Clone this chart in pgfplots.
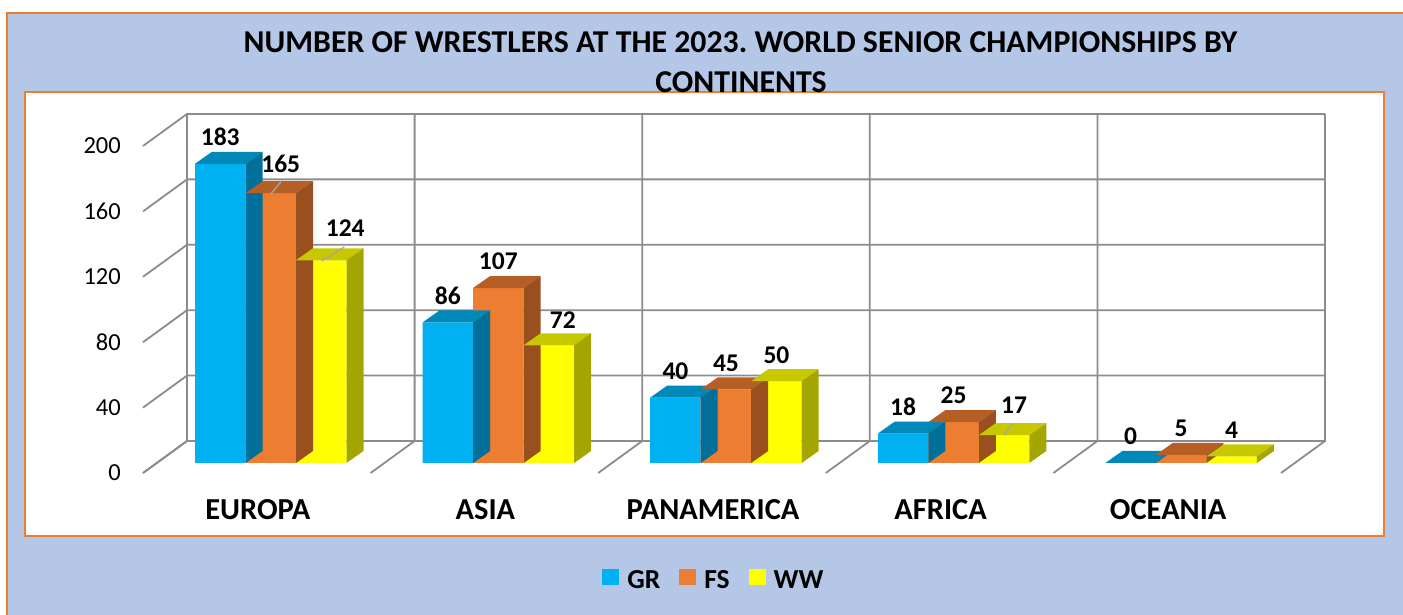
\documentclass[border=0pt]{standalone}
\usepackage{fontspec}
\setmainfont{Carlito}
\usepackage{pgfplots}
\usepackage{pgfplotstable}
\pgfplotsset{compat=1.18}
\frenchspacing

\definecolor{bgblue}{HTML}{B4C7E7}
\definecolor{frameor}{HTML}{ED7D31}
\definecolor{gridgray}{HTML}{8C8C8C}
\definecolor{leadgray}{HTML}{A6A6A6}
\definecolor{grF}{HTML}{00B0F0}
\definecolor{grT}{HTML}{0088B8}
\definecolor{grS}{HTML}{00709A}
\definecolor{fsF}{HTML}{ED7D31}
\definecolor{fsT}{HTML}{B55E25}
\definecolor{fsS}{HTML}{9A4F1E}
\definecolor{wwF}{HTML}{FFFF00}
\definecolor{wwT}{HTML}{C8C800}
\definecolor{wwS}{HTML}{A5A500}

\pgfplotstableread{
x gr fs ww grdx grdy fsdx fsdy wwdx wwdy
0 183 165 124 0 0 10 3 24 6
1 86 107 72 0 0 0 0 14 -1
2 40 45 50 0 0 0 0 0 0
3 18 25 17 0 0 0 0 10 3
4 0 5 4 0 0 0 0 0 0
}\datatable

% 3D faces of a bar: #1 mark name, #2 bar shift (pt), #3 top colour, #4 side colour
\newcommand\declareboxmark[4]{%
  \pgfdeclareplotmark{#1}{%
    \pgfmathsetmacro\boxh{\barv*1.635}%
    \pgfmathsetmacro\xl{#2-25.25}%
    \pgfmathsetmacro\xr{#2+25.25}%
    \pgfmathsetmacro\xlb{#2-25.25+17}%
    \pgfmathsetmacro\xrb{#2+25.25+17}%
    \pgfmathsetmacro\ybot{12-\boxh}%
    \pgfsetfillcolor{#3}%
    \pgfpathmoveto{\pgfpoint{\xl pt}{0pt}}%
    \pgfpathlineto{\pgfpoint{\xr pt}{0pt}}%
    \pgfpathlineto{\pgfpoint{\xrb pt}{12pt}}%
    \pgfpathlineto{\pgfpoint{\xlb pt}{12pt}}%
    \pgfpathclose
    \pgfusepath{fill}%
    \pgfsetfillcolor{#4}%
    \pgfpathmoveto{\pgfpoint{\xr pt}{0pt}}%
    \pgfpathlineto{\pgfpoint{\xrb pt}{12pt}}%
    \pgfpathlineto{\pgfpoint{\xrb pt}{\ybot pt}}%
    \pgfpathlineto{\pgfpoint{\xr pt}{-\boxh pt}}%
    \pgfpathclose
    \pgfusepath{fill}%
  }%
}
\declareboxmark{boxGR}{-50.5}{grT}{grS}
\declareboxmark{boxFS}{0}{fsT}{fsS}
\declareboxmark{boxWW}{50.5}{wwT}{wwS}

\pgfplotsset{
  frontbar/.style n args={4}{% shift, colour, dx col, dy col
    ybar, bar width=50.5pt, bar shift=#1pt, fill=#2, draw=none,
    nodes near coords,
    visualization depends on={\thisrow{#3}\as\ldx},
    visualization depends on={\thisrow{#4}\as\ldy},
    every node near coord/.append style={font=\fontsize{25.5}{30}\selectfont\bfseries,
      text=black, anchor=center, inner sep=0pt, xshift=#1pt+\ldx*1pt, yshift=26.5pt+\ldy*1pt},
    legend image code/.code={\fill[fill=#2] (0pt,-5pt) rectangle (17pt,11.5pt);},
  },
  boxfaces/.style n args={2}{% mark, column
    forget plot, scatter, only marks, mark=#1,
    visualization depends on={\thisrow{#2}\as\barv},
  },
}

\begin{document}
\begin{tikzpicture}
\path[use as bounding box] (0pt,0pt) rectangle (1403pt,615pt);
\fill[white] (0pt,0pt) rectangle (1403pt,615pt);
% outer chart area
\fill[bgblue] (7pt,-5pt) rectangle (1410pt,602pt);
\draw[frameor, line width=2.5pt] (7pt,-5pt) -- (7pt,602pt) -- (1410pt,602pt);
% plot area
\draw[frameor, line width=2.5pt, fill=white] (25pt,79pt) rectangle (1384pt,523pt);
% back wall, left wall and floor lines
\foreach \v in {0,40,...,200}{
  \pgfmathsetmacro\Y{174+1.635*\v}
  \draw[gridgray, line width=1.8pt] (143pt,\Y pt-32pt) -- (187pt,\Y pt) -- (1325pt,\Y pt);
}
\foreach \k in {0,...,5}{
  \pgfmathsetmacro\X{187+227.6*\k}
  \draw[gridgray, line width=1.8pt] (\X pt-44pt,142pt) -- (\X pt,174pt) -- (\X pt,501pt);
}
\begin{axis}[
  at={(134.19pt,135.65pt)}, anchor=south west,
  x=227.6pt, y=1.635pt,
  xmin=-0.6, xmax=4.6, ymin=-10, ymax=220,
  enlargelimits=false, clip=false,
  axis line style={draw=none}, tick style={draw=none}, major tick length=0pt,
  xtick={0,...,4}, xticklabels={EUROPA,ASIA,PANAMERICA,AFRICA,OCEANIA},
  xticklabel style={font=\fontsize{30.5}{36}\selectfont\bfseries, anchor=base,
    inner sep=0pt, xshift=-12.95pt, yshift=-40.65pt},
  ytick={0,40,...,200}, yticklabels={0,40,80,120,160,200},
  yticklabel style={font=\fontsize{24.5}{29}\selectfont, anchor=east,
    inner sep=0pt, xshift=-13.2pt, yshift=-10pt},
  /pgf/number format/assume math mode=true,
  legend columns=3,
  legend style={at={(0.4890,-0.266)}, anchor=center, draw=none, fill=none,
    font=\fontsize{27.5}{33}\selectfont\bfseries, nodes={inner sep=0pt},
    /tikz/every odd column/.append style={column sep=8pt},
    /tikz/every even column/.append style={column sep=19pt}},
]
\addplot[frontbar={-50.5}{grF}{grdx}{grdy}] table[x=x,y=gr]{\datatable};
\addlegendentry{GR}
\addplot[boxfaces={boxGR}{gr}] table[x=x,y=gr]{\datatable};
\addplot[frontbar={0}{fsF}{fsdx}{fsdy}] table[x=x,y=fs]{\datatable};
\addlegendentry{FS}
\addplot[boxfaces={boxFS}{fs}] table[x=x,y=fs]{\datatable};
\addplot[frontbar={50.5}{wwF}{wwdx}{wwdy}] table[x=x,y=ww]{\datatable};
\addlegendentry{WW}
\addplot[boxfaces={boxWW}{ww}] table[x=x,y=ww]{\datatable};
\end{axis}
% leader lines of the moved data labels
\draw[leadgray, line width=1.3pt] (270.7pt,421pt) -- (281pt,433.3pt);
\draw[leadgray, line width=1.3pt] (321.7pt,354pt) -- (344.3pt,368pt);
\draw[leadgray, line width=1.3pt] (1004pt,180pt) -- (1013.3pt,191.7pt);
% title
\node[font=\fontsize{31.8}{38}\selectfont\bfseries, anchor=base] at (740.5pt,562.7pt)
  {NUMBER OF WRESTLERS AT THE 2023. WORLD SENIOR CHAMPIONSHIPS BY};
\node[font=\fontsize{31.8}{38}\selectfont\bfseries, anchor=base] at (741pt,522.7pt)
  {CONTINENTS};
\end{tikzpicture}
\end{document}
